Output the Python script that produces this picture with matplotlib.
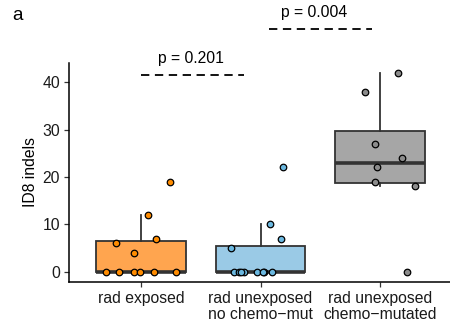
import matplotlib
matplotlib.use('Agg')
from matplotlib import pyplot as plt

plt.rcParams['font.family'] = ['Liberation Sans', 'DejaVu Sans']
plt.rcParams['lines.scale_dashes'] = False

grupos = ['rad exposed', 'rad unexposed\nno chemo\u2212mut', 'rad unexposed\nchemo\u2212mutated']

# ID8 indels por muestra
rad_expuesto = [19, 12, 7, 6, 4, 0, 0, 0, 0, 0, 0]
rad_no_expuesto = [22, 10, 7, 5, 0, 0, 0, 0, 0, 0, 0, 0]
chemo_mutado = [42, 38, 27, 24, 22, 19, 18, 0]

# desplazamiento horizontal (jitter)
jitter_1 = [0.24, 0.06, 0.13, -0.21, -0.06, -0.29, -0.18, -0.06, -0.01, 0.11, 0.29]
jitter_2 = [0.19, 0.08, 0.17, -0.25, -0.22, -0.18, -0.14, -0.03, 0.03, 0.10, -0.16, 0.02]
jitter_3 = [0.15, -0.13, -0.04, 0.18, -0.03, -0.04, 0.29, 0.22]

p_valores = ['p = 0.201', 'p = 0.004']

datos = [rad_expuesto, rad_no_expuesto, chemo_mutado]
jitters = [jitter_1, jitter_2, jitter_3]
relleno = ['#FFA54F', '#9ACAE6', '#A6A6A6']
puntos = ['#FF8C00', '#6BB8E0', '#8C8C8C']
borde = '#333333'

fig = plt.figure(figsize=(4.5, 3.27), dpi=100)
ax = fig.add_axes([69 / 450, (327 - 281.7) / 327, 383 / 450, 219 / 327])

bp = ax.boxplot(datos, positions=[1, 2, 3], widths=0.75, patch_artist=True,
                showfliers=False, showcaps=False, whis=1.5,
                medianprops=dict(color=borde, linewidth=2.6),
                whiskerprops=dict(color=borde, linewidth=1.3),
                boxprops=dict(edgecolor=borde, linewidth=1.3))
for caja, color in zip(bp['boxes'], relleno):
    caja.set_facecolor(color)

for i, (valores, jit) in enumerate(zip(datos, jitters)):
    xs = [i + 1 + j for j in jit]
    ax.scatter(xs, valores, s=22, color=puntos[i], edgecolors='black',
               linewidths=0.9, zorder=5, clip_on=False)

ax.set_xlim(0.4, 3.6)
ax.set_ylim(-2.1, 44.1)
ax.set_yticks([0, 10, 20, 30, 40])
ax.set_xticks([1, 2, 3])
ax.set_xticklabels(grupos, linespacing=1.1)
ax.tick_params(axis='both', length=3.5, width=0.9, color='#333333', labelsize=11.3,
               labelcolor='#1a1a1a', pad=3)
ax.set_ylabel('ID8 indels', fontsize=11.3, labelpad=3)
for lado in ['top', 'right']:
    ax.spines[lado].set_visible(False)
for lado in ['left', 'bottom']:
    ax.spines[lado].set_linewidth(1.1)

# comparaciones
ax.plot([1.0, 1.86], [41.5, 41.5], color='black', lw=1.3, dashes=(6, 4), clip_on=False)
ax.text(1.42, 45.0, p_valores[0], ha='center', va='center', fontsize=11.3)
ax.plot([2.07, 2.93], [51.3, 51.3], color='black', lw=1.3, dashes=(6, 4), clip_on=False)
ax.text(2.45, 54.6, p_valores[1], ha='center', va='center', fontsize=11.3)

fig.text(12 / 450, 1 - 16 / 327, 'a', fontsize=13.5, ha='left', va='center')

fig.savefig('out.png', dpi=100)
